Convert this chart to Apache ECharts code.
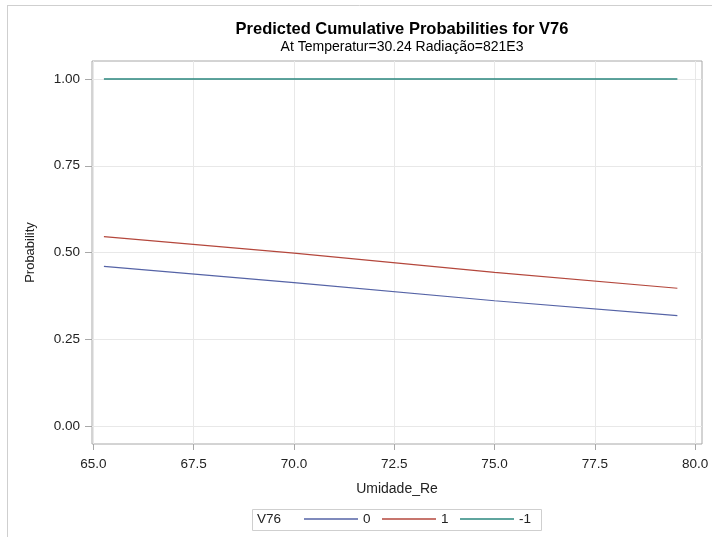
<!DOCTYPE html>
<html><head><meta charset="utf-8">
<script src="https://cdn.jsdelivr.net/npm/echarts@6/dist/echarts.min.js"></script>
<style>html,body{margin:0;padding:0;background:#fff}#c{width:712px;height:537px}</style>
</head><body><div id="c"></div>
<script>
const xValues = [65.26, 70.0, 75.0, 79.56];
const series0 = [0.460, 0.413, 0.361, 0.318];
const series1 = [0.546, 0.498, 0.443, 0.397];
const seriesM1 = [1.0, 1.0, 1.0, 1.0];
const xTicks = [65, 67.5, 70, 72.5, 75, 77.5, 80];
const yTicks = [0, 0.25, 0.5, 0.75, 1.0];
const seriesNames = ['0', '1', '-1'];
const colors = ['#5563a6', '#b4473c', '#2a877e'];

const chart = echarts.init(document.getElementById('c'));
const font = 'Arial, "Liberation Sans", sans-serif';
const mk = (arr) => xValues.map((x, i) => [x, arr[i]]);
chart.setOption({
  animation: false,
  textStyle: {fontFamily: font},
  title: {
    text: 'Predicted Cumulative Probabilities for V76',
    subtext: 'At Temperatur=30.24 Radiação=821E3',
    left: 397, textAlign: 'center', top: 16, itemGap: 2,
    textStyle: {fontSize: 16.5, fontWeight: 'bold', color: '#000', fontFamily: font},
    subtextStyle: {fontSize: 14, color: '#000', fontFamily: font}
  },
  grid: {left: 92, right: 10, top: 61, bottom: 93, show: true, borderColor: '#a8a8a8', borderWidth: 1, backgroundColor: '#fff'},
  xAxis: {
    type: 'value', min: 64.963, max: 80.174,
    name: 'Umidade_Re', nameLocation: 'middle', nameGap: 38,
    nameTextStyle: {fontSize: 14, color: '#222'},
    axisLine: {show: false, onZero: false},
    axisTick: {show: true, length: 6, lineStyle: {color: '#a8a8a8'}, customValues: xTicks},
    axisLabel: {customValues: xTicks, formatter: v => v.toFixed(1), fontSize: 13.5, color: '#222', margin: 13},
    splitLine: {show: true, lineStyle: {color: '#e8e8e8'}}
  },
  yAxis: {
    type: 'value', min: -0.0519, max: 1.0519,
    name: 'Probability', nameLocation: 'middle', nameGap: 55, nameRotate: 90,
    nameTextStyle: {fontSize: 13, color: '#222'},
    axisLine: {show: false, onZero: false},
    axisTick: {show: true, length: 7, lineStyle: {color: '#a8a8a8'}, customValues: yTicks},
    axisLabel: {customValues: yTicks, formatter: v => v.toFixed(2), fontSize: 13.5, color: '#222', margin: 12},
    splitLine: {show: true, lineStyle: {color: '#e8e8e8'}}
  },
  legend: {
    show: true, left: 304, top: 512, padding: 0, itemWidth: 54, itemHeight: 1.5, itemGap: 11.5,
    icon: 'rect',
    data: seriesNames,
    textStyle: {fontSize: 13.5, color: '#222'}
  },
  graphic: [
    {type: 'line', shape: {x1: 7, y1: 5.5, x2: 712, y2: 5.5}, style: {stroke: '#cfcfcf', lineWidth: 1}, silent: true},
    {type: 'line', shape: {x1: 7.5, y1: 5, x2: 7.5, y2: 537}, style: {stroke: '#cfcfcf', lineWidth: 1}, silent: true},
    {type: 'rect', shape: {x: 252.5, y: 509.5, width: 289, height: 21}, style: {fill: 'none', stroke: '#cfcfcf', lineWidth: 1}, silent: true},
    {type: 'text', left: 257, top: 512, style: {text: 'V76', fontSize: 13.5, fill: '#222', fontFamily: font}, silent: true}
  ],
  series: [
    {name: seriesNames[0], type: 'line', data: mk(series0), showSymbol: false, symbol: 'none', lineStyle: {width: 1.2, color: colors[0]}, itemStyle: {color: colors[0]}},
    {name: seriesNames[1], type: 'line', data: mk(series1), showSymbol: false, symbol: 'none', lineStyle: {width: 1.2, color: colors[1]}, itemStyle: {color: colors[1]}},
    {name: seriesNames[2], type: 'line', data: mk(seriesM1), showSymbol: false, symbol: 'none', lineStyle: {width: 1.6, color: colors[2]}, itemStyle: {color: colors[2]}}
  ]
});
</script></body></html>
